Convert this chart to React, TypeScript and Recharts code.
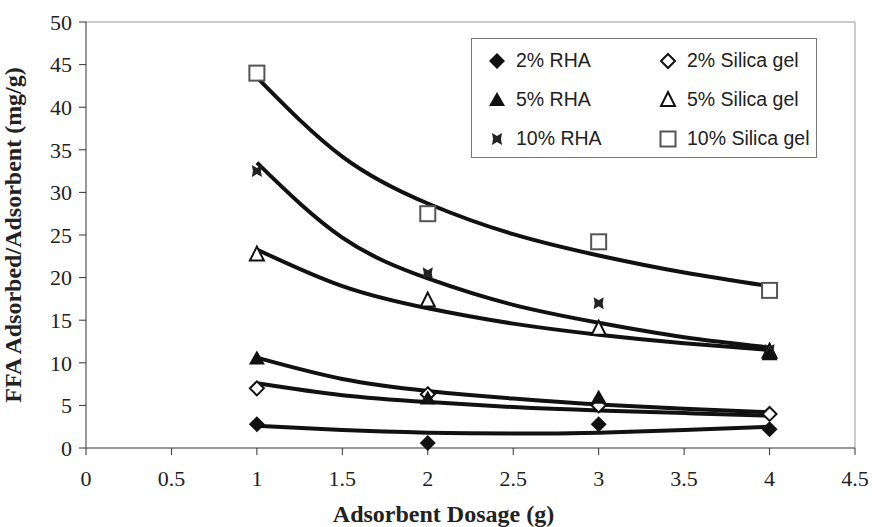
import React from 'react';
import {
  ComposedChart,
  Line,
  Scatter,
  XAxis,
  YAxis,
  ReferenceLine,
} from 'recharts';

const dosages = [1, 2, 3, 4];
const rha2 = [2.8, 0.6, 2.8, 2.2];
const silica2 = [7.0, 6.3, 5.0, 4.0];
const rha5 = [10.5, 5.8, 5.9, 11.0];
const silica5 = [22.7, 17.3, 14.0, 11.3];
const rha10 = [32.5, 20.5, 17.0, 11.5];
const silica10 = [44.0, 27.5, 24.2, 18.5];

// trend curves, read at half-step dosages
const curveX = [1, 1.5, 2, 2.5, 3, 3.5, 4];
const rha2Fit = [2.6, 2.1, 1.8, 1.7, 1.8, 2.1, 2.5];
const silica2Fit = [7.6, 6.2, 5.4, 4.8, 4.4, 4.1, 3.8];
const rha5Fit = [10.6, 8.1, 6.7, 5.8, 5.1, 4.6, 4.2];
const silica5Fit = [23.3, 19.0, 16.4, 14.6, 13.3, 12.3, 11.5];
const rha10Fit = [33.5, 24.7, 19.9, 16.8, 14.7, 13.0, 11.8];
const silica10Fit = [43.5, 34.2, 28.7, 25.1, 22.6, 20.6, 19.0];

const xTicks = [0, 0.5, 1, 1.5, 2, 2.5, 3, 3.5, 4, 4.5];
const yTicks = [0, 5, 10, 15, 20, 25, 30, 35, 40, 45, 50];

const toPoints = (ys: number[]) => dosages.map((x, i) => ({ x, y: ys[i] }));
const toCurve = (ys: number[]) => curveX.map((x, i) => ({ x, y: ys[i] }));

type Kind = 'diamond' | 'openDiamond' | 'triangle' | 'openTriangle' | 'star' | 'square';

const Marker = ({ kind, cx, cy }: { kind: Kind; cx: number; cy: number }) => {
  switch (kind) {
    case 'diamond':
      return <path d={`M${cx},${cy - 8}L${cx + 8},${cy}L${cx},${cy + 8}L${cx - 8},${cy}Z`} fill="#111" />;
    case 'openDiamond':
      return (
        <path
          d={`M${cx},${cy - 7}L${cx + 7},${cy}L${cx},${cy + 7}L${cx - 7},${cy}Z`}
          fill="#fff"
          stroke="#111"
          strokeWidth={2}
        />
      );
    case 'triangle':
      return <path d={`M${cx},${cy - 8}L${cx + 8},${cy + 6}L${cx - 8},${cy + 6}Z`} fill="#111" />;
    case 'openTriangle':
      return (
        <path
          d={`M${cx},${cy - 8}L${cx + 7},${cy + 6}L${cx - 7},${cy + 6}Z`}
          fill="#fff"
          stroke="#111"
          strokeWidth={2}
        />
      );
    case 'star':
      return (
        <path
          d={`M${cx - 5},${cy - 6}L${cx},${cy - 3}L${cx + 5},${cy - 6}L${cx + 4},${cy}L${cx + 5},${cy + 6}L${cx},${cy + 3}L${cx - 5},${cy + 6}L${cx - 4},${cy}Z`}
          fill="#222"
        />
      );
    default:
      return <rect x={cx - 7.5} y={cy - 7.5} width={15} height={15} fill="#fff" stroke="#555" strokeWidth={2} />;
  }
};

const shapeOf = (kind: Kind) => (props: any) => <Marker kind={kind} cx={props.cx} cy={props.cy} />;

const legendItems: { label: string; kind: Kind }[] = [
  { label: '2% RHA', kind: 'diamond' },
  { label: '2% Silica gel', kind: 'openDiamond' },
  { label: '5% RHA', kind: 'triangle' },
  { label: '5% Silica gel', kind: 'openTriangle' },
  { label: '10% RHA', kind: 'star' },
  { label: '10% Silica gel', kind: 'square' },
];

const LegendBox = () => (
  <div
    style={{
      position: 'absolute',
      left: 471,
      top: 38,
      width: 346,
      height: 120,
      border: '1px solid #777',
      background: '#fff',
      boxSizing: 'border-box',
      display: 'grid',
      gridTemplateColumns: '171px 175px',
      gridTemplateRows: 'repeat(3, 39px)',
      paddingTop: 2,
      fontFamily: '"Liberation Sans", Arial, sans-serif',
      fontSize: 19.5,
      color: '#222',
    }}
  >
    {legendItems.map((it) => (
      <div key={it.label} style={{ display: 'flex', alignItems: 'center', paddingLeft: 14 }}>
        <svg width={22} height={20} style={{ marginRight: 8 }}>
          <Marker kind={it.kind} cx={11} cy={10} />
        </svg>
        {it.label}
      </div>
    ))}
  </div>
);

const tickFont = { fontSize: 22, fill: '#222', fontFamily: '"Liberation Serif", "Times New Roman", serif' };
const titleFont = {
  fontSize: 24,
  fontWeight: 700,
  fill: '#222',
  fontFamily: '"Liberation Serif", "Times New Roman", serif',
};

export default function App() {
  const curves = [rha2Fit, silica2Fit, rha5Fit, silica5Fit, rha10Fit, silica10Fit];
  const series: { ys: number[]; kind: Kind }[] = [
    { ys: silica10, kind: 'square' },
    { ys: rha10, kind: 'star' },
    { ys: silica5, kind: 'openTriangle' },
    { ys: silica2, kind: 'openDiamond' },
    { ys: rha5, kind: 'triangle' },
    { ys: rha2, kind: 'diamond' },
  ];

  return (
    <div style={{ position: 'absolute', left: 0, top: 0, width: 872, height: 527, background: '#fff' }}>
      <ComposedChart width={872} height={527} margin={{ top: 22, right: 17, left: 36, bottom: 39 }}>
        <XAxis
          type="number"
          dataKey="x"
          domain={[0, 4.5]}
          ticks={xTicks}
          tick={tickFont}
          tickSize={7}
          tickMargin={15}
          stroke="#333"
          height={40}
          label={{
            value: 'Adsorbent Dosage (g)',
            position: 'insideBottom',
            offset: -34,
            dx: -27,
            style: titleFont,
          }}
        />
        <YAxis
          type="number"
          dataKey="y"
          domain={[0, 50]}
          ticks={yTicks}
          tick={tickFont}
          tickSize={7}
          tickMargin={7}
          stroke="#333"
          width={50}
          label={{
            value: 'FFA Adsorbed/Adsorbent (mg/g)',
            angle: -90,
            position: 'insideLeft',
            offset: -24,
            style: { ...titleFont, textAnchor: 'middle' },
          }}
        />
        <ReferenceLine y={50} stroke="#999" />
        <ReferenceLine x={4.5} stroke="#999" />
        {curves.map((ys, i) => (
          <Line
            key={`c${i}`}
            data={toCurve(ys)}
            dataKey="y"
            type="natural"
            stroke="#111"
            strokeWidth={4}
            dot={false}
            activeDot={false}
            isAnimationActive={false}
          />
        ))}
        {series.map((s, i) => (
          <Scatter
            key={`s${i}`}
            data={toPoints(s.ys)}
            dataKey="y"
            shape={shapeOf(s.kind)}
            isAnimationActive={false}
          />
        ))}
      </ComposedChart>
      <LegendBox />
    </div>
  );
}
